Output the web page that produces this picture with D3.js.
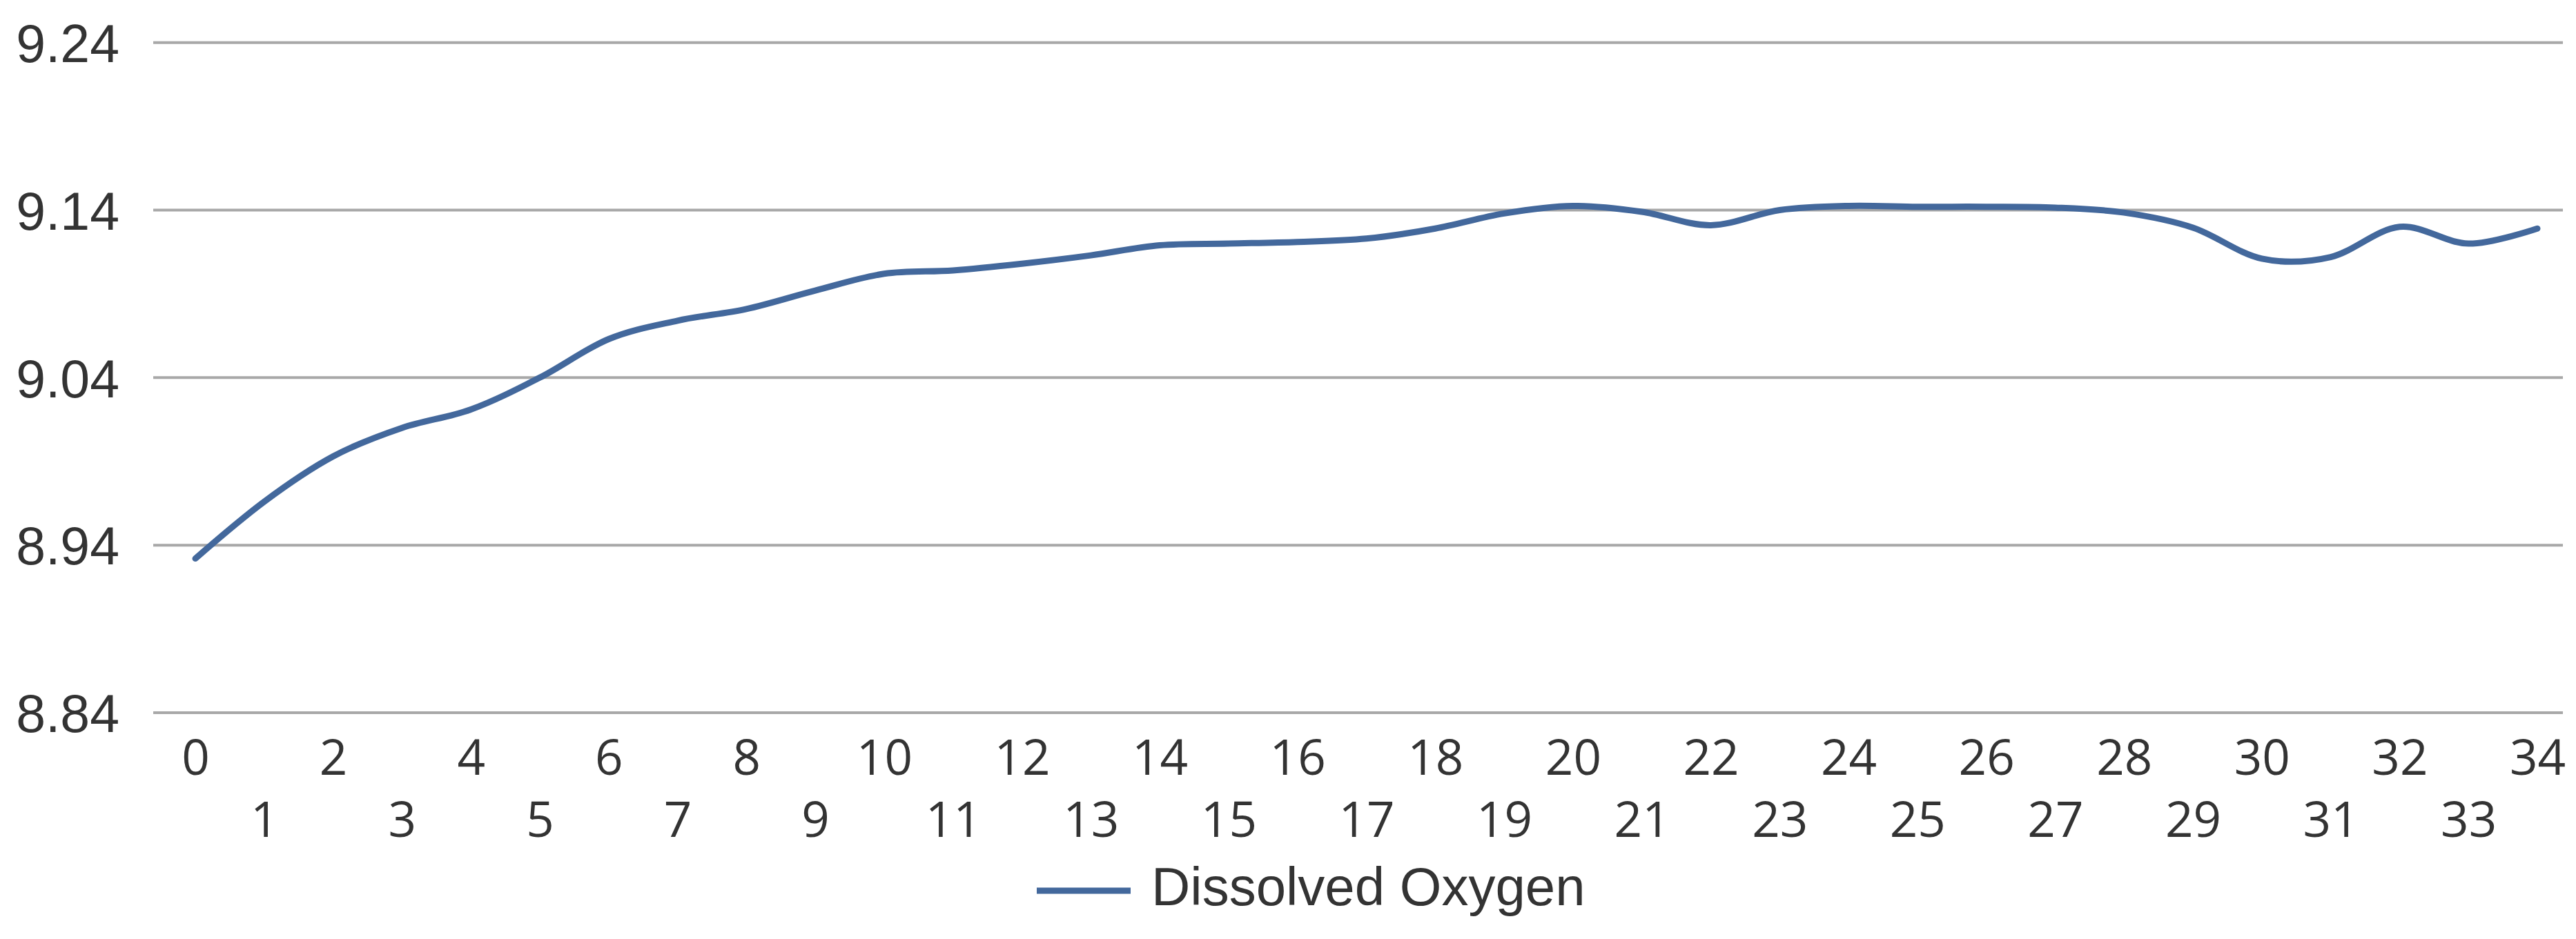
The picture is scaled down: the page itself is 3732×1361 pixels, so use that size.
<!DOCTYPE html>
<html>
<head>
<meta charset="utf-8">
<script src="https://cdn.jsdelivr.net/npm/d3@7"></script>
<style>
  html, body { margin: 0; padding: 0; background: #fff; }
  svg { display: block; }
</style>
</head>
<body>
<svg id="chart" width="3732" height="1361"></svg>
<script>
// ---- Data ----
const categories = d3.range(0, 35).map(String);
const dissolvedOxygen = [
  8.932, 8.966, 8.993, 9.010, 9.021, 9.040, 9.063, 9.074, 9.081, 9.092,
  9.102, 9.104, 9.108, 9.113, 9.119, 9.120, 9.121, 9.123, 9.129, 9.138,
  9.1425, 9.139, 9.131, 9.140, 9.1425, 9.142, 9.142, 9.1415, 9.1385, 9.1295,
  9.111, 9.112, 9.130, 9.120, 9.129
];
const yTicks = [8.84, 8.94, 9.04, 9.14, 9.24];
const seriesName = "Dissolved Oxygen";

// ---- Layout ----
const svg = d3.select("#chart");
const gridLeft = 222, gridRight = 3713;
const x = d3.scalePoint().domain(categories).range([283, 3676]);
const y = d3.scaleLinear().domain([8.84, 9.24]).range([1033, 61.7]);

const lineColor = "#43689c";
const textColor = "#333333";

// gridlines
svg.append("g")
  .selectAll("line")
  .data(yTicks)
  .join("line")
  .attr("x1", gridLeft).attr("x2", gridRight)
  .attr("y1", d => y(d)).attr("y2", d => y(d))
  .attr("stroke", "#a8a8a8")
  .attr("stroke-width", 4);

// y axis labels
const yAxis = svg.append("g")
  .attr("transform", "translate(173,0)")
  .call(d3.axisLeft(y).tickValues(yTicks).tickSize(0).tickPadding(0).tickFormat(d3.format(".2f")));
yAxis.select(".domain").remove();
yAxis.selectAll("text")
  .attr("font-family", "'Liberation Sans', Arial, sans-serif")
  .attr("font-size", 77)
  .attr("fill", textColor)
  .attr("dy", "0.36em");

// x axis labels (staggered)
const xAxis = svg.append("g")
  .attr("transform", "translate(0,1033)")
  .call(d3.axisBottom(x).tickSize(0).tickPadding(0));
xAxis.select(".domain").remove();
xAxis.selectAll("text")
  .attr("font-family", "'Open Sans', sans-serif")
  .attr("font-size", 71)
  .attr("fill", textColor)
  .attr("dy", null)
  .attr("y", (d, i) => (i % 2 === 0 ? 90 : 180));

// line
const line = d3.line()
  .x((d, i) => x(categories[i]))
  .y(d => y(d))
  .curve(d3.curveCardinal.tension(0));

svg.append("path")
  .datum(dissolvedOxygen)
  .attr("d", line)
  .attr("fill", "none")
  .attr("stroke", lineColor)
  .attr("stroke-width", 9)
  .attr("stroke-linecap", "round")
  .attr("stroke-linejoin", "round");

// legend
const legend = svg.append("g");
legend.append("line")
  .attr("x1", 1502).attr("x2", 1638)
  .attr("y1", 1291).attr("y2", 1291)
  .attr("stroke", lineColor)
  .attr("stroke-width", 9);
legend.append("text")
  .attr("x", 1668).attr("y", 1312)
  .attr("font-family", "'Liberation Sans', Arial, sans-serif")
  .attr("font-size", 78)
  .attr("fill", textColor)
  .text(seriesName);
</script>
</body>
</html>
